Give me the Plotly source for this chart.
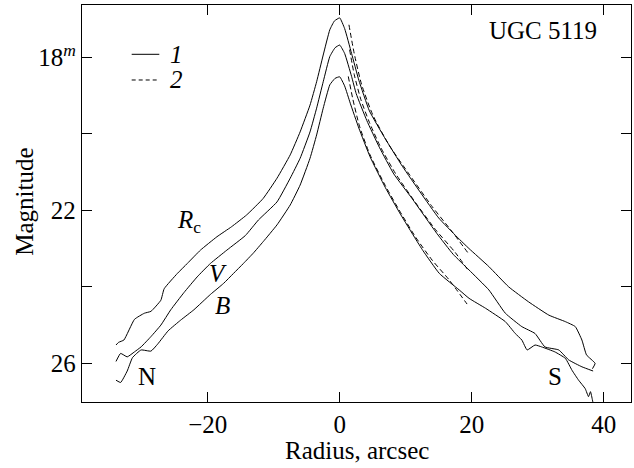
import plotly.graph_objects as go

# ---- data ----
rc_x = [-33.9, -33.5, -32.7, -31.1, -29.6, -28.6, -27.1, -26.6, -24.6, -23.1, -21.1, -18.6, -16.4,
        -14.1, -11.6, -9.5, -7.5, -6.0, -4.5, -3.5, -2.5, -1.5, -0.8, 0.0, 0.75, 1.8, 2.9, 4.5,
        6.8, 9.5, 12.3, 15.0, 17.8, 19.6, 22.6, 25.6, 28.6, 31.7, 34.2, 35.7, 36.7, 37.4, 38.7, 38.3]
rc_y = [25.52, 25.45, 25.39, 24.85, 24.69, 24.64, 24.35, 24.05, 23.65, 23.39, 23.04, 22.69, 22.43,
        22.12, 21.69, 21.16, 20.55, 19.95, 19.25, 18.64, 17.94, 17.28, 17.05, 16.97, 17.25, 17.9, 18.6, 19.4,
        20.1, 20.85, 21.55, 22.2, 22.7, 23.0, 23.47, 24.0, 24.39, 24.74, 24.91, 25.04, 25.39, 25.78, 26.0, 26.14]

v_x = [-33.9, -33.2, -32.2, -31.1, -30.1, -28.6, -27.1, -25.6, -23.6, -21.6, -19.6, -17.1, -14.3,
       -12.3, -9.5, -7.5, -6.0, -4.5, -3.5, -2.5, -1.5, -0.7, 0.0, 0.75, 1.8, 2.5, 4.1, 6.0, 8.2,
       11.0, 14.7, 17.2, 19.6, 22.6, 25.1, 27.6, 29.6, 31.1, 33.2, 34.7, 36.7, 38.4]
v_y = [25.95, 25.74, 25.83, 25.7, 25.57, 25.3, 25.0, 24.6, 24.15, 23.74, 23.39, 23.04, 22.66,
       22.25, 21.78, 21.16, 20.64, 19.95, 19.33, 18.64, 17.98, 17.75, 17.68, 17.9, 18.5, 18.95, 19.65, 20.35, 21.05,
       21.7, 22.6, 23.15, 23.56, 24.08, 24.69, 25.04, 25.22, 25.57, 25.65, 25.91, 26.09, 26.2]

b_x = [-33.9, -33.2, -32.2, -31.4, -30.1, -28.6, -27.6, -26.0, -24.1, -22.1, -19.6, -17.6, -16.1,
       -14.6, -13.1, -11.6, -9.5, -7.5, -6.0, -4.5, -3.5, -2.5, -1.5, -0.7, 0.0, 0.75, 1.6, 2.9,
       4.6, 6.9, 9.2, 11.5, 12.6, 15.1, 18.1, 19.6, 22.1, 25.1, 26.6, 27.6, 28.4, 29.6, 30.6,
       32.6, 34.2, 35.2, 36.2, 37.2, 37.7, 38.0, 38.3, 38.6]
b_y = [26.44, 26.5, 26.2, 25.85, 25.65, 25.68, 25.5, 25.15, 24.87, 24.6, 24.2, 23.91, 23.65,
       23.39, 23.12, 22.82, 22.38, 21.86, 21.34, 20.64, 20.03, 19.33, 18.72, 18.55, 18.51, 18.75, 19.2, 19.85,
       20.6, 21.4, 22.1, 22.75, 23.05, 23.65, 24.08, 24.3, 24.56, 24.91, 25.22, 25.39, 25.65, 25.52, 25.57,
       25.7, 25.87, 26.18, 26.44, 26.66, 26.87, 26.74, 26.96, 27.2]

rc2_x = [1.4, 2.2, 3.3, 5.0, 7.5, 10.5, 14.0, 17.0, 19.6]
rc2_y = [17.15, 17.9, 18.7, 19.5, 20.3, 21.05, 21.9, 22.55, 23.15]
v2_x = [1.5, 2.2, 3.2, 4.5, 6.2, 8.5, 11.5, 14.5, 17.5, 19.6]
v2_y = [17.8, 18.45, 19.1, 19.7, 20.35, 21.05, 21.8, 22.5, 23.1, 23.6]
b2_x = [1.3, 2.0, 3.0, 4.6, 6.9, 9.2, 11.5, 14.0, 16.5, 19.3]
b2_y = [18.5, 19.1, 19.8, 20.55, 21.35, 22.05, 22.7, 23.3, 23.8, 24.45]

x_ticks = [-20, 0, 20, 40]
y_ticks = [18, 22, 26]
y_tick_text = ["18<sup><i>m</i></sup>", "22", "26"]
y_minor_ticks = [20, 24]

FONT = "Liberation Serif"
FS = 25

fig = go.Figure()
for xs, ys in [(rc_x, rc_y), (v_x, v_y), (b_x, b_y)]:
    fig.add_trace(go.Scatter(x=xs, y=ys, mode="lines", showlegend=False, hoverinfo="skip",
                             line=dict(color="black", width=1, shape="spline", smoothing=0.4)))
for xs, ys in [(rc2_x, rc2_y), (v2_x, v2_y), (b2_x, b2_y)]:
    fig.add_trace(go.Scatter(x=xs, y=ys, mode="lines", showlegend=False, hoverinfo="skip",
                             line=dict(color="black", width=1, dash="5px,3px", shape="spline", smoothing=0.6)))

axis_common = dict(showline=True, linecolor="black", linewidth=1.2, mirror="ticks",
                   ticks="inside", ticklen=10, tickwidth=1.2, tickcolor="black",
                   showgrid=False, zeroline=False, automargin=False,
                   tickfont=dict(family=FONT, size=FS, color="black"))

fig.update_xaxes(range=[-39.05, 44.14], tickvals=x_ticks, **axis_common)
fig.update_yaxes(range=[27.01, 16.633], tickvals=y_ticks, ticktext=y_tick_text,
                 minor=dict(tickvals=y_minor_ticks, ticks="inside", ticklen=10, tickwidth=1.2,
                            tickcolor="black", showgrid=False),
                 **axis_common)

ann = []
def add(text, x, y, xref="x", yref="y", **kw):
    ann.append(dict(text=text, x=x, y=y, xref=xref, yref=yref, showarrow=False,
                    font=dict(family=FONT, size=kw.pop("size", FS), color="black"), **kw))

add("Radius, arcsec", 0.5, -0.1234, xref="paper", yref="paper", xanchor="center", yanchor="middle")
add("Magnitude", -0.104, 0.504, xref="paper", yref="paper", xanchor="center", yanchor="middle", textangle=-90)
add("UGC 5119", 0.9417, 0.937, xref="paper", yref="paper", xanchor="right", yanchor="middle")
add("<i>R</i><sub>c</sub>", -22.8, 22.28)
add("<i>V</i>", -18.4, 23.64)
add("<i>B</i>", -17.7, 24.5)
add("N", -29.2, 26.35)
add("S", 32.6, 26.35)
add("<i>1</i>", 0.1566, 0.8758, xref="paper", yref="paper", xanchor="left", yanchor="middle")
add("<i>2</i>", 0.1566, 0.8111, xref="paper", yref="paper", xanchor="left", yanchor="middle")

shapes = [
    dict(type="line", xref="paper", yref="paper", x0=0.0905, x1=0.1408, y0=0.8758, y1=0.8758,
         line=dict(color="black", width=1)),
    dict(type="line", xref="paper", yref="paper", x0=0.0905, x1=0.1408, y0=0.8111, y1=0.8111,
         line=dict(color="black", width=1, dash="4px,3px")),
]

fig.update_layout(width=634, height=468, margin=dict(l=82, r=3, t=5, b=66),
                  paper_bgcolor="white", plot_bgcolor="white",
                  annotations=ann, shapes=shapes, hovermode=False,
                  font=dict(family=FONT, size=FS, color="black"))

fig.write_html("out.html", config={"displayModeBar": False, "staticPlot": True},
               post_script="document.body.style.margin='0';document.body.style.overflow='hidden';")
